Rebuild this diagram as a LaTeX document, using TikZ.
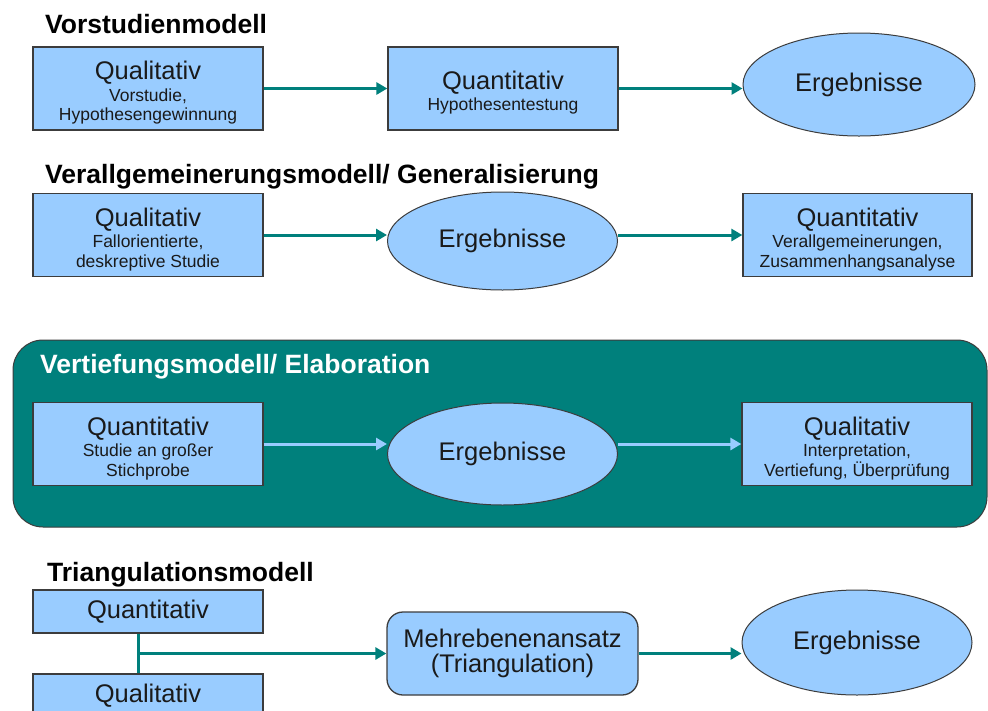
\documentclass[tikz,border=0pt]{standalone}
\usepackage{fontspec}
\setmainfont{Liberation Sans}
\usetikzlibrary{arrows.meta,shapes.geometric}

\definecolor{boxblue}{HTML}{99CCFF}
\definecolor{flowteal}{HTML}{00807C}
\definecolor{edgegrey}{HTML}{3C3C3C}
\definecolor{inktext}{HTML}{1A1A1A}

\newcommand\hdsz{\fontsize{25.5}{28}\selectfont}
\newcommand\smsz{\fontsize{17.5}{19.5}\selectfont}
\newcommand\hdline[1]{{\hdsz\rule{0pt}{27pt}#1}}

\tikzset{
  method/.style={draw=edgegrey, line width=1.3pt, fill=boxblue, text=inktext,
    minimum width=230pt, minimum height=83pt, inner sep=0pt, align=center, font=\smsz},
  result/.style={ellipse, draw=edgegrey, line width=1pt, fill=boxblue, text=inktext,
    minimum width=230pt, minimum height=102pt, inner sep=0pt, font=\hdsz},
  model/.style={anchor=base west, inner sep=0pt, font=\bfseries\fontsize{26.5}{30}\selectfont},
  flow/.style={draw=flowteal, line width=3pt, -{Triangle[length=11pt,width=12pt]}},
}

\begin{document}
\begin{tikzpicture}[x=1pt,y=-1pt]
  \path[use as bounding box, clip] (0,0) rectangle (988,710);
  \fill[white] (0,0) rectangle (988,710);

  \node[model] (t1) at (45,33) {Vorstudienmodell};
  \node[method] (v1) at (148,88.5) {\hdline{Qualitativ}\\[2pt]Vorstudie,\\Hypothesengewinnung};
  \node[method] (v2) at (503,88.5) {\hdline{Quantitativ}\\[2pt]Hypothesentestung};
  \node[result, minimum width=232pt, minimum height=103pt] (v3) at (859,84.5) {Ergebnisse};
  \draw[flow] (v1) -- (v2);
  \draw[flow] (v2.east) -- (v2.east -| v3.west);

  \node[model] (t2) at (45,183) {Verallgemeinerungsmodell/ Generalisierung};
  \node[method] (g1) at (148,235) {\hdline{Qualitativ}\\[2pt]Fallorientierte,\\deskreptive Studie};
  \node[result, minimum height=98pt] (g2) at (502.5,241) {Ergebnisse};
  \node[method, minimum width=229pt] (g3) at (857.5,235) {\hdline{Quantitativ}\\[2pt]Verallgemeinerungen,\\Zusammenhangsanalyse};
  \draw[flow] (g1.east) -- (g1.east -| g2.west);
  \draw[flow] (g2.east |- g3.west) -- (g3.west);

  \draw[draw=edgegrey, line width=1pt, fill=flowteal, rounded corners=30pt] (13,340) rectangle (987,527);
  \node[model, text=white] (t3) at (40,373) {Vertiefungsmodell/ Elaboration};
  \node[method] (e1) at (148,444) {\hdline{Quantitativ}\\[2pt]Studie an großer\\Stichprobe};
  \node[result] (e2) at (502.5,454) {Ergebnisse};
  \node[method] (e3) at (857,444) {\hdline{Qualitativ}\\[2pt]Interpretation,\\Vertiefung, Überprüfung};
  \draw[flow, draw=boxblue] (e1.east) -- (e1.east -| e2.west);
  \draw[flow, draw=boxblue] (e2.east |- e3.west) -- (e3.west);

  \node[model] (t4) at (47,581) {Triangulationsmodell};
  \node[method, minimum height=43pt, font=\hdsz] (a1) at (148,611.5) {Quantitativ};
  \node[method, minimum height=43pt, font=\hdsz] (a2) at (148,695.5) {Qualitativ};
  \node[method, rounded corners=16pt, minimum width=251pt, font=\fontsize{25.5}{24.5}\selectfont] (a3) at (512.5,653.5) {Mehrebenenansatz\\(Triangulation)};
  \node[result, minimum height=105pt] (a4) at (857,642.5) {Ergebnisse};
  \coordinate (aj) at (138,653.5);
  \draw[draw=flowteal, line width=3pt] (a1.south -| aj) -- (a2.north -| aj);
  \draw[flow] (aj) -- (a3);
  \draw[flow] (a3.east) -- (a3.east -| a4.west);
\end{tikzpicture}
\end{document}
